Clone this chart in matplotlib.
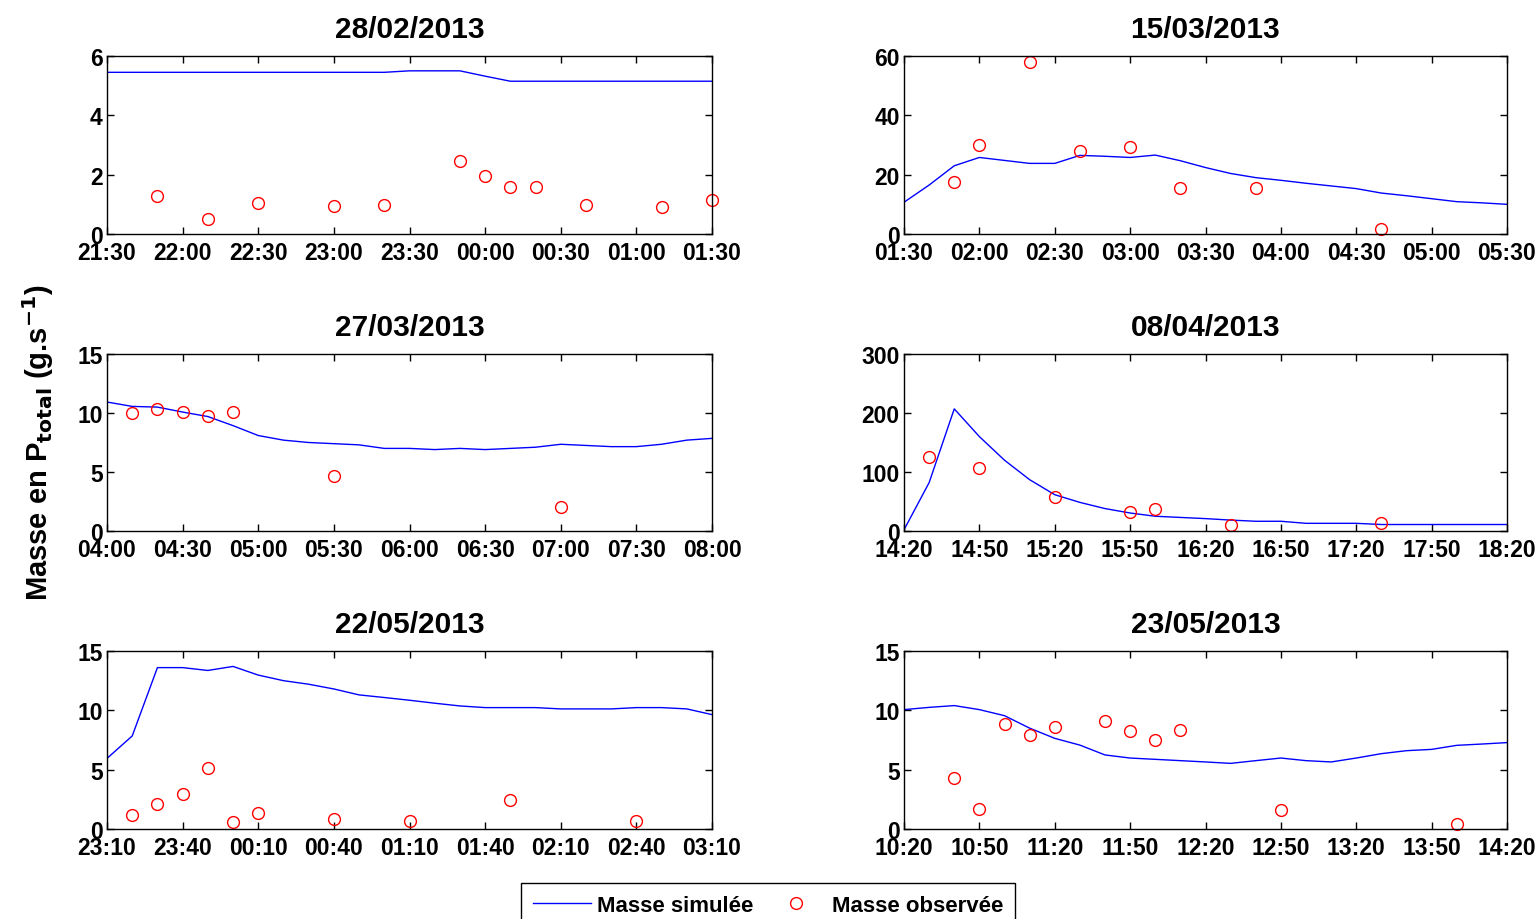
import numpy as np
import matplotlib
matplotlib.use("Agg")
import matplotlib.pyplot as plt
from matplotlib.lines import Line2D

plt.rcParams['font.family'] = ['Liberation Sans', 'DejaVu Sans']
plt.rcParams['font.weight'] = 'bold'

# ---- data (model output every 10 min, 4 h window) ----
SIM_STEP = 10  # minutes

titles = ['28/02/2013', '15/03/2013', '27/03/2013',
          '08/04/2013', '22/05/2013', '23/05/2013']
starts = ['21:30', '01:30', '04:00', '14:20', '23:10', '10:20']
ymax = [6, 60, 15, 300, 15, 15]
yticks = [[0, 2, 4, 6], [0, 20, 40, 60], [0, 5, 10, 15],
          [0, 100, 200, 300], [0, 5, 10, 15], [0, 5, 10, 15]]

sim_1 = [5.45] * 12 + [5.5, 5.5, 5.5, 5.32, 5.15] + [5.15] * 8
sim_2 = [10.7, 16.5, 23.0, 25.8, 24.8, 23.8, 23.8, 26.5, 26.2, 25.8, 26.6,
         24.7, 22.4, 20.4, 19.0, 18.1, 17.1, 16.2, 15.3, 13.8, 12.9, 11.9,
         10.9, 10.5, 10.0]
sim_3 = [10.93, 10.56, 10.5, 10.08, 9.7, 8.93, 8.09, 7.7, 7.5, 7.4, 7.3,
         7.0, 7.0, 6.9, 7.0, 6.9, 7.0, 7.1, 7.35, 7.25, 7.15, 7.15, 7.35,
         7.7, 7.85]
sim_4 = [2, 82, 207, 160, 120, 87, 61.5, 48.5, 38, 30.5, 25, 23, 21, 18.5,
         16.5, 16.5, 13, 13, 13, 11, 11, 11, 11, 11, 11]
sim_5 = [5.95, 7.84, 13.6, 13.6, 13.36, 13.7, 12.97, 12.5, 12.2, 11.8, 11.3,
         11.08, 10.85, 10.6, 10.37, 10.23, 10.23, 10.23, 10.12, 10.12, 10.12,
         10.23, 10.23, 10.12, 9.64]
sim_6 = [10.06, 10.25, 10.4, 10.06, 9.55, 8.5, 7.64, 7.07, 6.24, 5.98, 5.87,
         5.76, 5.65, 5.53, 5.76, 5.98, 5.76, 5.65, 5.98, 6.35, 6.6, 6.71,
         7.05, 7.16, 7.28]

obs_t_1 = ['21:50', '22:10', '22:30', '23:00', '23:20', '23:50', '00:00',
           '00:10', '00:20', '00:40', '01:10', '01:30']
obs_1 = [1.27, 0.51, 1.04, 0.94, 0.99, 2.46, 1.95, 1.6, 1.6, 0.99, 0.9, 1.13]
obs_t_2 = ['01:50', '02:00', '02:20', '02:40', '03:00', '03:20', '03:50', '04:40']
obs_2 = [17.5, 29.9, 58.0, 28.1, 29.4, 15.4, 15.4, 1.8]
obs_t_3 = ['04:10', '04:20', '04:30', '04:40', '04:50', '05:30', '07:00']
obs_3 = [9.97, 10.37, 10.1, 9.75, 10.1, 4.64, 2.02]
obs_t_4 = ['14:30', '14:50', '15:20', '15:50', '16:00', '16:30', '17:30']
obs_4 = [126, 106, 58, 33, 37, 10, 13.5]
obs_t_5 = ['23:20', '23:30', '23:40', '23:50', '00:00', '00:10', '00:40',
           '01:10', '01:50', '02:40']
obs_5 = [1.16, 2.14, 2.99, 5.1, 0.59, 1.33, 0.82, 0.7, 2.48, 0.7]
obs_t_6 = ['10:40', '10:50', '11:00', '11:10', '11:20', '11:40', '11:50',
           '12:00', '12:10', '12:50', '14:00']
obs_6 = [4.33, 1.71, 8.82, 7.89, 8.62, 9.07, 8.23, 7.53, 8.34, 1.57, 0.39]

sims = [sim_1, sim_2, sim_3, sim_4, sim_5, sim_6]
obs_times = [obs_t_1, obs_t_2, obs_t_3, obs_t_4, obs_t_5, obs_t_6]
obs_vals = [obs_1, obs_2, obs_3, obs_4, obs_5, obs_6]


def clock_min(s):
    h, m = s.split(':')
    return int(h) * 60 + int(m)


def offset(s, start):
    # minutes after the panel start, wrapping over midnight
    return (clock_min(s) - clock_min(start)) % 1440


def clock_label(start, minutes):
    t = (clock_min(start) + minutes) % 1440
    return f"{t // 60:02d}:{t % 60:02d}"


fig = plt.figure(figsize=(15.4, 9.2), dpi=100)

W, H = 1540, 920
col_x = [(107, 712), (904, 1507)]
row_y = [(57, 235), (355, 532), (652, 830)]

for i in range(6):
    r, c = divmod(i, 2)
    x0, x1 = col_x[c]
    y0, y1 = row_y[r]
    ax = fig.add_axes([x0 / W, 1 - y1 / H, (x1 - x0) / W, (y1 - y0) / H])

    start = starts[i]
    t_sim = np.arange(len(sims[i])) * SIM_STEP
    t_obs = [offset(s, start) for s in obs_times[i]]

    ax.plot(t_sim, sims[i], color='blue', linewidth=1.0)
    ax.plot(t_obs, obs_vals[i], 'o', markerfacecolor='none',
            markeredgecolor='red', markersize=8.5, markeredgewidth=1.0,
            clip_on=False)

    ax.set_xlim(0, 240)
    ax.set_ylim(0, ymax[i])
    xt = np.arange(0, 241, 30)
    ax.set_xticks(xt)
    ax.set_xticklabels([clock_label(start, int(m)) for m in xt])
    ax.set_yticks(yticks[i])
    ax.tick_params(direction='in', top=True, right=True, length=5,
                   width=1, labelsize=16.5)
    ax.tick_params(axis='x', pad=5)
    ax.tick_params(axis='y', pad=3)
    for lab in ax.get_xticklabels() + ax.get_yticklabels():
        lab.set_fontweight('bold')
    for sp in ax.spines.values():
        sp.set_linewidth(1.0)
    ax.set_title(titles[i], fontsize=21.5, fontweight='bold', pad=14)

fig.text(38 / W, 1 - 443 / H, r'Masse en P$_{\mathbf{total}}$ (g.s$^{\mathbf{-1}}$)',
         rotation=90, ha='center', va='center', fontsize=21, fontweight='bold')

handles = [Line2D([], [], color='blue', linewidth=1.0),
           Line2D([], [], linestyle='none', marker='o', markerfacecolor='none',
                  markeredgecolor='red', markersize=8.5, markeredgewidth=1.0)]
leg = fig.legend(handles, ['Masse simulée', 'Masse observée'],
                 loc='upper center', bbox_to_anchor=(768 / W, 1 - 884 / H),
                 ncol=2, fontsize=16, frameon=True, fancybox=False,
                 edgecolor='black', framealpha=1, handlelength=2.6,
                 handletextpad=0.3, columnspacing=0.6, borderpad=0.55,
                 borderaxespad=0)
leg.get_frame().set_linewidth(1.0)
for t in leg.get_texts():
    t.set_fontweight('bold')

fig.savefig('out.png', dpi=100)
